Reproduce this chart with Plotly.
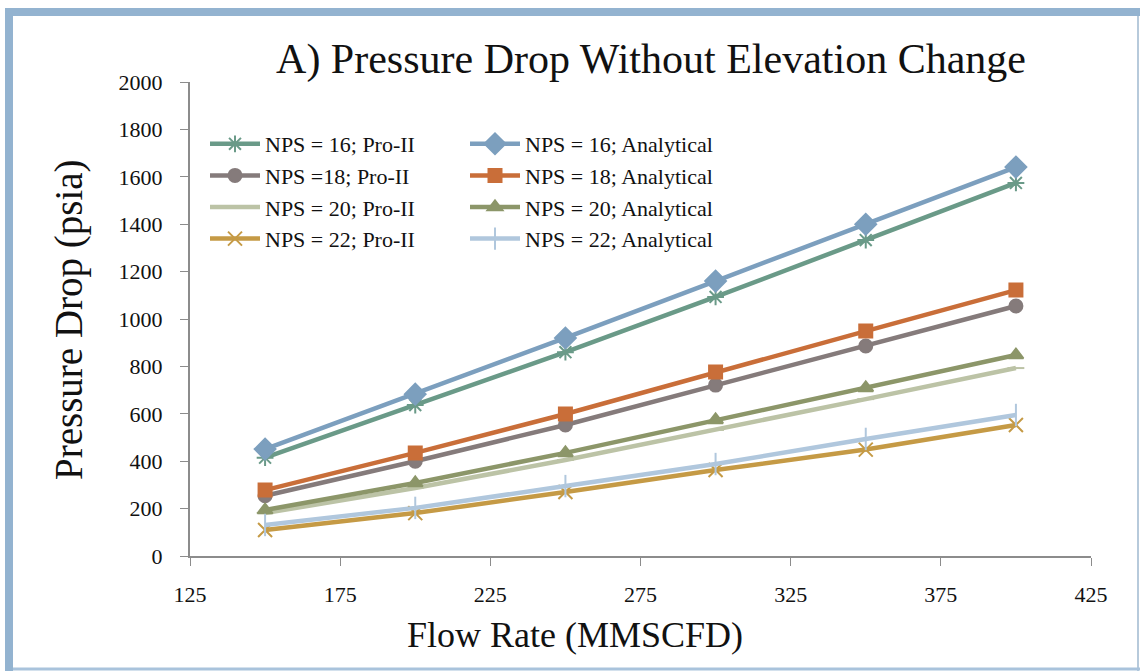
import plotly.graph_objects as go

flow = [150, 200, 250, 300, 350, 400]

nps16_pro = [415, 637, 860, 1093, 1333, 1574]
nps16_ana = [451, 683, 920, 1160, 1400, 1641]
nps18_pro = [254, 400, 553, 721, 886, 1055]
nps18_ana = [278, 435, 599, 776, 949, 1122]
nps20_pro = [181, 287, 405, 532, 662, 793]
nps20_ana = [194, 308, 435, 574, 709, 848]
nps22_pro = [110, 181, 270, 363, 449, 553]
nps22_ana = [131, 203, 295, 388, 494, 595]

x_ticks = [125, 175, 225, 275, 325, 375, 425]
y_ticks = [0, 200, 400, 600, 800, 1000, 1200, 1400, 1600, 1800, 2000]

FONT = "Liberation Serif, Times New Roman, serif"

series = [
    ("NPS = 16; Pro-II", nps16_pro, "#6a9a88", "asterisk-open", 14, "legend"),
    ("NPS =18; Pro-II", nps18_pro, "#857b7b", "circle", 13, "legend"),
    ("NPS = 20; Pro-II", nps20_pro, "#bcc3a6", "line-ew-open", 12, "legend"),
    ("NPS = 22; Pro-II", nps22_pro, "#c59a45", "x-thin-open", 14, "legend"),
    ("NPS = 16; Analytical", nps16_ana, "#7c9fbe", "diamond", 16, "legend2"),
    ("NPS = 18; Analytical", nps18_ana, "#c96e39", "square", 13, "legend2"),
    ("NPS = 20; Analytical", nps20_ana, "#8c9669", "triangle-up", 13, "legend2"),
    ("NPS = 22; Analytical", nps22_ana, "#b0c7dd", "line-ns-open", 16, "legend2"),
]

fig = go.Figure()
for name, ys, color, sym, size, leg in series:
    fig.add_trace(go.Scatter(
        x=flow, y=ys, name=name, mode="lines+markers",
        line=dict(color=color, width=4.5),
        marker=dict(symbol=sym, size=size, color=color,
                    line=dict(color=color, width=2)),
        legend=leg,
    ))

W, H = 1140, 671
L, R, T, B = 190, 49, 82, 115
pw, ph = W - L - R, H - T - B

def px(xp):
    return (xp - L) / pw

def py(yp):
    return (H - B - yp) / ph

frame = "#93b3d0"
shapes = [
    dict(type="line", xref="paper", yref="paper", x0=px(9), x1=px(9), y0=py(10), y1=py(671),
         line=dict(color=frame, width=8)),
    dict(type="line", xref="paper", yref="paper", x0=px(5), x1=px(1140), y0=py(12), y1=py(12),
         line=dict(color=frame, width=8)),
    dict(type="line", xref="paper", yref="paper", x0=px(1138), x1=px(1138), y0=py(16), y1=py(671),
         line=dict(color="#b7cadb", width=2)),
    dict(type="line", xref="paper", yref="paper", x0=px(13), x1=px(1140), y0=py(669), y1=py(669),
         line=dict(color="#a9c3dc", width=3)),
]

annotations = [
    dict(text="Flow Rate (MMSCFD)", xref="paper", yref="paper", x=px(575), y=py(635),
         showarrow=False, font=dict(family=FONT, size=36, color="#111111"),
         xanchor="center", yanchor="middle"),
    dict(text="Pressure Drop (psia)", xref="paper", yref="paper", x=px(69), y=py(320),
         showarrow=False, textangle=-90, font=dict(family=FONT, size=39, color="#111111"),
         xanchor="center", yanchor="middle"),
]

fig.update_layout(
    width=W, height=H,
    margin=dict(l=L, r=R, t=T, b=B),
    paper_bgcolor="white", plot_bgcolor="white",
    font=dict(family=FONT, color="#111111"),
    title=dict(text="A) Pressure Drop Without Elevation Change", x=651 / W, xref="container",
               xanchor="center", y=1 - 58 / H, yref="container", yanchor="middle",
               font=dict(family=FONT, size=42, color="#111111")),
    xaxis=dict(range=[125, 425], tickvals=x_ticks, showgrid=False, zeroline=False,
               showline=True, linecolor="#8c8c8c", linewidth=2, ticks="outside",
               tickcolor="#8c8c8c", ticklen=8, tickwidth=1, ticklabelstandoff=10,
               tickfont=dict(family=FONT, size=22, color="#111111")),
    yaxis=dict(range=[0, 2000], tickvals=y_ticks, showgrid=False, zeroline=False,
               showline=True, linecolor="#8c8c8c", linewidth=2, ticks="outside",
               tickcolor="#8c8c8c", ticklen=8, tickwidth=1, ticklabelstandoff=13,
               tickfont=dict(family=FONT, size=22, color="#111111")),
    legend=dict(x=px(205), y=py(123), xanchor="left", yanchor="top", bgcolor="rgba(0,0,0,0)",
                font=dict(family=FONT, size=22, color="#111111"), tracegroupgap=0,
                itemwidth=50),
    legend2=dict(x=px(465), y=py(123), xanchor="left", yanchor="top", bgcolor="rgba(0,0,0,0)",
                 font=dict(family=FONT, size=22, color="#111111"), tracegroupgap=0,
                 itemwidth=50),
    shapes=shapes,
    annotations=annotations,
)

fig.write_html("out.html", config={"displayModeBar": False},
               post_script="document.body.style.margin='0';")
